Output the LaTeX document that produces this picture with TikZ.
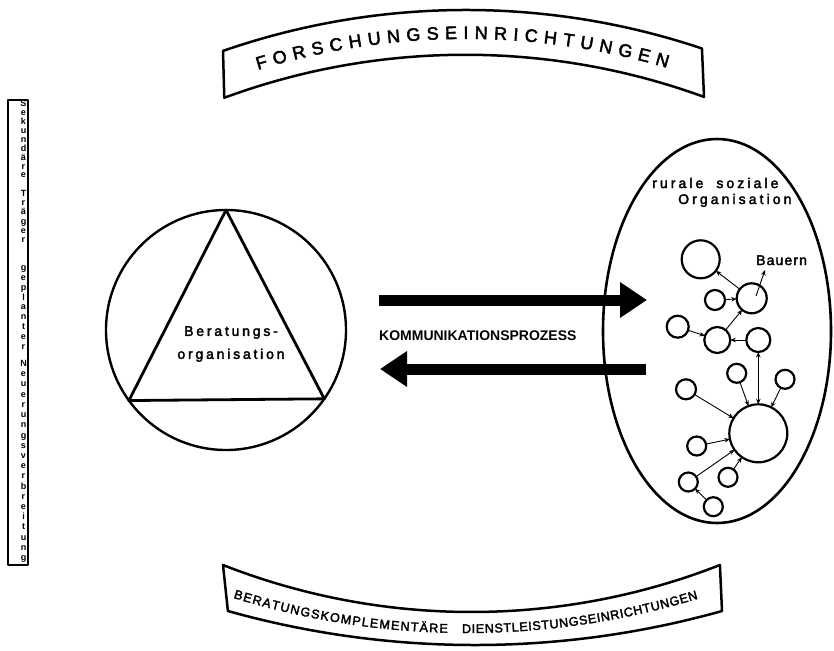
\documentclass[tikz,border=0pt]{standalone}
\usepackage{fontspec}
\setmainfont{Liberation Sans}
\usetikzlibrary{arrows.meta,decorations.text,shapes.geometric}
\newcommand\topbandfont{\fontsize{18}{20}\selectfont\addfontfeatures{FakeBold=2.5}}
\newcommand\botbandfont{\fontsize{12.6}{15}\selectfont\addfontfeatures{FakeBold=2.5}}
\newcommand\labelfont{\fontsize{14}{23}\selectfont}
\begin{document}
\begin{tikzpicture}[x=1pt,y=-1pt,line join=round,
 band/.style={line width=2.5pt},
 netnode/.style={circle,draw,line width=2.2pt,inner sep=0pt,outer sep=0pt},
 link/.style={line width=0.9pt,-{Stealth[length=5.5pt,width=4.5pt]}},
 linkboth/.style={line width=0.9pt,{Stealth[length=5.5pt,width=4.5pt]}-{Stealth[length=5.5pt,width=4.5pt]}},
 bigarrow/.style={line width=11pt,-{Triangle[length=27pt,width=34pt]}},
 spaced/.style={font=\labelfont\addfontfeatures{LetterSpace=20,FakeBold=2.5}},
 barletter/.style={font=\bfseries\fontsize{9}{9}\selectfont,inner sep=0pt,anchor=base},
]
\useasboundingbox (0,0) rectangle (834,650);

% top banner
\draw[band] (223,50.9) arc[start angle=-109.12,end angle=-71.46,radius=742]
  -- (704,96.9) arc[start angle=-69.97,end angle=-110.23,radius=697] -- cycle;
\path[decorate,decoration={text along path,text={|\topbandfont|FORSCHUNGSEINRICHTUNGEN},text align={fit to path}}]
  (258,69.9) arc[start angle=-106.96,end angle=-73.63,radius=713];

% bottom banner
\draw[band] (223,565) arc[start angle=111.42,end angle=68.58,radius=680.4]
  -- (722,611) arc[start angle=74.32,end angle=105.68,radius=914.2] -- cycle;
\path[decorate,decoration={text along path,text={|\botbandfont|BERATUNGSKOMPLEMENTÄRE},text align={fit to path}}]
  (233.3,597.9) arc[start angle=107.1,end angle=91.4,radius=795];
\path[decorate,decoration={text along path,text={|\botbandfont|DIENSTLEISTUNGSEINRICHTUNGEN},text align={fit to path}}]
  (462,633) arc[start angle=90.36,end angle=73.1,radius=795];

% left bar
\node[draw,line width=2.6pt,minimum width=20pt,minimum height=465pt,inner sep=0pt,outer sep=0pt] (bar) at (18,332.5) {};
\foreach \ch/\yy [count=\i] in {S/103,e/112,k/121,u/130,n/139,d/148,ä/157,r/166,e/174,
  T/193,r/202,ä/211,g/221,e/230,r/239,
  g/267,e/277,p/287,l/297,a/306,n/316,t/326,e/336,r/346,
  N/363,e/373.2,u/383.4,e/393.6,r/403.8,u/414,n/424.3,g/434.5,s/444.7,v/454.9,
  e/465.1,r/475.3,b/485.5,r/495.7,e/506,i/516.2,t/526.4,u/536.6,n/546.8,g/557}
  \node[barletter] (L\i) at (23.5,\yy+3.5) {\ch};

% Beratungsorganisation
\node[circle,draw,line width=2.4pt,minimum size=240pt,inner sep=0pt,outer sep=0pt] (bo) at (226,330) {};
\draw[line width=2.8pt] (bo.90) -- (bo.-35.7) -- (bo.-144.3) -- cycle;
\node[spaced,align=center,inner sep=0pt] (bt) at (231,344) {Beratungs-\\organisation};

% communication arrows
\coordinate (ka1) at (379,300); \coordinate (ka2) at (647,300);
\coordinate (kb1) at (646,369); \coordinate (kb2) at (380,369);
\draw[bigarrow] (ka1) -- (ka2);
\draw[bigarrow] (kb1) -- (kb2);
\node[font=\bfseries\fontsize{14}{14}\selectfont,inner sep=0pt,anchor=base west] (kp) at (379,340) {KOMMUNIKATIONSPROZESS};

% rural social organisation
\node[ellipse,draw,line width=2.6pt,minimum width=228pt,minimum height=384pt,inner sep=0pt,outer sep=0pt] (rso) at (717,331) {};
\node[font=\labelfont\addfontfeatures{LetterSpace=22,FakeBold=2.5},inner sep=0pt,anchor=base west] (rl1) at (652,188) {rurale\hspace{13pt}soziale};
\node[font=\labelfont\addfontfeatures{LetterSpace=22,FakeBold=2.5},inner sep=0pt,anchor=base west] (rl2) at (678,204) {Organisation};

% network
\node[netnode,minimum size=38pt] (n1) at (700.7,259.3) {};
\node[netnode,minimum size=30pt] (nA) at (751.7,298.3) {};
\node[netnode,minimum size=20pt] (nA2) at (715,300) {};
\node[netnode,minimum size=26pt] (nB) at (717.3,340) {};
\node[netnode,minimum size=22pt] (nB2) at (677.7,326.7) {};
\node[netnode,minimum size=24pt] (nC) at (758.3,340) {};
\node[netnode,minimum size=58pt] (hub) at (758.3,433.3) {};
\node[netnode,minimum size=19pt] (s1) at (736.7,373.3) {};
\node[netnode,minimum size=19pt] (s2) at (785,379.3) {};
\node[netnode,minimum size=20pt] (s3) at (686,389.3) {};
\node[netnode,minimum size=19pt] (s4) at (696.7,446) {};
\node[netnode,minimum size=19pt] (s5) at (688.3,482) {};
\node[netnode,minimum size=19pt] (s6) at (728,477.3) {};
\node[netnode,minimum size=19pt] (s7) at (713.3,506.7) {};

\draw[link] (nA) -- (n1);
\draw[link] (nA2) -- (nA);
\draw[link] (nB) -- (nA);
\draw[link] (nB2) -- (nB);
\draw[link] (nC) -- (nB);
\draw[linkboth] (nC) -- (hub);
\draw[link] (s1) -- (hub);
\draw[link] (s2) -- (hub);
\draw[link] (s3) -- (hub);
\draw[link] (s4) -- (hub);
\draw[link] (s5) -- (hub);
\draw[link] (s6) -- (hub);
\draw[link] (s7) -- (s5);

\coordinate (bfrom) at (756,296);
\coordinate (bto) at (765,270);
\draw[link] (bfrom) -- (bto);
\node[font=\labelfont\addfontfeatures{LetterSpace=8,FakeBold=2.5},inner sep=0pt,anchor=base west] (bau) at (756,265) {Bauern};
\end{tikzpicture}
\end{document}
